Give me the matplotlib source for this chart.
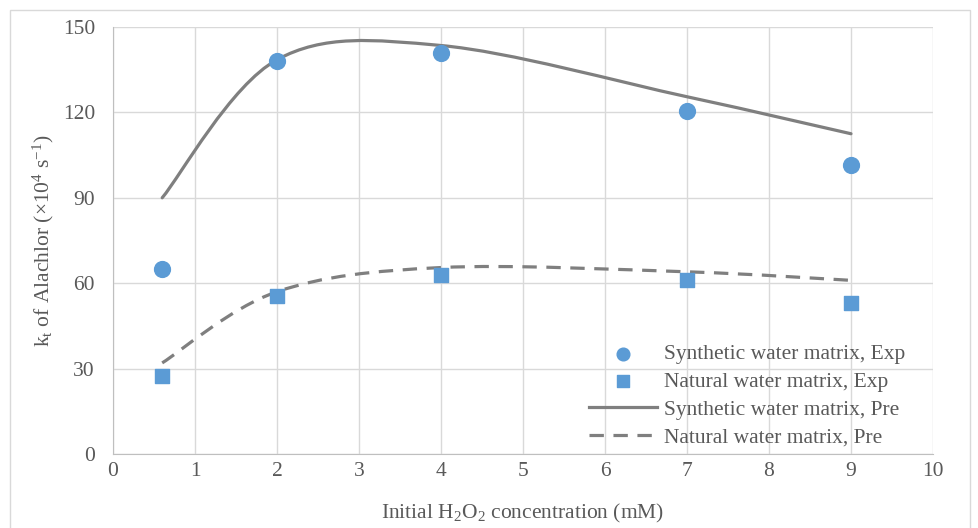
import matplotlib.pyplot as plt
from matplotlib.path import Path
from matplotlib.patches import PathPatch, Rectangle
import numpy as np

plt.rcParams['font.family'] = ['Liberation Serif', 'DejaVu Serif']
plt.rcParams['mathtext.fontset'] = 'custom'
plt.rcParams['mathtext.rm'] = 'Liberation Serif'
plt.rcParams['mathtext.it'] = 'Liberation Serif:italic'

# data
h2o2 = [0.6, 2, 4, 7, 9]
syn_exp = [65, 138, 141, 120.5, 101.5]
nat_exp = [27.5, 55.5, 63, 61, 53]
syn_pre = [90, 138.5, 143.5, 125.5, 112.5]
nat_pre = [32, 57, 65.5, 64, 61]

labels = ["Synthetic water matrix, Exp", "Natural water matrix, Exp",
          "Synthetic water matrix, Pre", "Natural water matrix, Pre"]

blue = '#5B9BD5'
grey = '#7F7F7F'
txt = '#595959'
fs = 15.5
dash = (0, (4.5, 3))


def smooth_path(x, y):
    # Excel-style smoothed line: cubic bezier pieces through the points
    x = np.asarray(x, float)
    y = np.asarray(y, float)
    n = len(x)
    verts = [(x[0], y[0])]
    codes = [Path.MOVETO]
    for i in range(n - 1):
        i0 = max(i - 1, 0)
        i3 = min(i + 2, n - 1)
        c1 = (x[i] + (x[i + 1] - x[i0]) / 6, y[i] + (y[i + 1] - y[i0]) / 6)
        c2 = (x[i + 1] - (x[i3] - x[i]) / 6, y[i + 1] - (y[i3] - y[i]) / 6)
        verts += [c1, c2, (x[i + 1], y[i + 1])]
        codes += [Path.CURVE4] * 3
    return Path(verts, codes)


fig = plt.figure(figsize=(9.79, 5.28), dpi=100)
fig.patches.append(Rectangle((10 / 979, -0.1), 960 / 979, 1.1 - 10 / 528,
                             transform=fig.transFigure, fill=False,
                             ec='#d9d9d9', lw=1))
ax = fig.add_axes([113 / 979, 1 - 454 / 528, 820 / 979, 427 / 528])

ax.scatter(h2o2, syn_exp, s=130, marker='o', color=blue, zorder=4, label=labels[0])
ax.scatter(h2o2, nat_exp, s=100, marker='s', color=blue, zorder=4, label=labels[1])

ax.add_patch(PathPatch(smooth_path(h2o2, syn_pre), fill=False, ec=grey, lw=2.3,
                       capstyle='round', zorder=3))
ax.add_patch(PathPatch(smooth_path(h2o2, nat_pre), fill=False, ec=grey, lw=2.3,
                       ls=dash, zorder=3))
# legend proxies for the smoothed lines
ax.plot([], [], color=grey, lw=2.3, label=labels[2])
ax.plot([], [], color=grey, lw=2.3, ls=dash, label=labels[3])

ax.set_xlim(0, 10)
ax.set_ylim(0, 150)
ax.set_xticks(range(0, 11))
ax.set_yticks(range(0, 151, 30))
ax.grid(True, color='#d9d9d9', lw=1)
ax.set_axisbelow(True)
for s in ['top', 'right']:
    ax.spines[s].set_visible(False)
for s in ['left', 'bottom']:
    ax.spines[s].set_color('#bfbfbf')
ax.tick_params(length=0, labelsize=fs, colors=txt)
ax.tick_params(axis='y', pad=13)
ax.tick_params(axis='x', pad=6)

ax.set_xlabel(r'Initial H$_2$O$_2$ concentration (mM)', fontsize=fs, color=txt, labelpad=15)
ax.set_ylabel(r'k$_{\mathrm{t}}$ of Alachlor ($\mathregular{\times}$10$^4$ s$^{-1}$)',
              fontsize=fs, color=txt, labelpad=5)

leg = ax.legend(loc='center left', bbox_to_anchor=(0.58, 0.136), frameon=False,
                fontsize=fs, labelcolor=txt, handlelength=3.2, markerscale=0.8,
                handletextpad=0.3, labelspacing=0.36, borderaxespad=0, borderpad=0)

plt.savefig('out.png', dpi=100)
